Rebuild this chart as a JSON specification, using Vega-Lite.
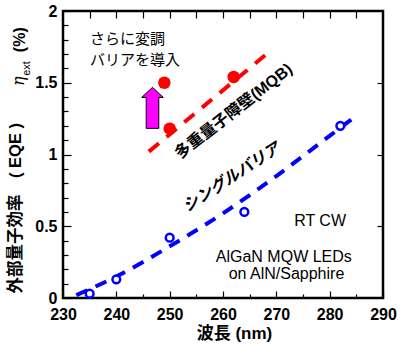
{
  "$schema": "https://vega.github.io/schema/vega-lite/v6.json",
  "width": 320,
  "height": 287,
  "autosize": "none",
  "padding": {"left": 63, "top": 11, "right": 18, "bottom": 53},
  "background": "white",
  "config": {
    "view": {"stroke": "black", "strokeWidth": 2.5},
    "font": "Liberation Sans, Noto Sans CJK JP, sans-serif",
    "axis": {"grid": false, "labelFlush": false}
  },
  "datasets": {
    "blue": [
      {"x": 235, "y": 0.03},
      {"x": 240, "y": 0.13},
      {"x": 250, "y": 0.42},
      {"x": 264, "y": 0.6},
      {"x": 282, "y": 1.2}
    ],
    "blueFit": [
      {"x": 232.5, "y": 0.02},
      {"x": 240, "y": 0.15},
      {"x": 250, "y": 0.36},
      {"x": 260, "y": 0.59},
      {"x": 270, "y": 0.85},
      {"x": 280, "y": 1.13},
      {"x": 285, "y": 1.27}
    ],
    "red": [
      {"x": 249, "y": 1.5},
      {"x": 250, "y": 1.18},
      {"x": 262, "y": 1.54}
    ],
    "redFit": [
      {"x": 246.1, "y": 1.02},
      {"x": 268.5, "y": 1.71}
    ],
    "arrow": [{"x": 246.78, "y": 1.325}],
    "noteLeft": [
      {"x": 235.06, "y": 1.805, "label": "さらに変調"},
      {"x": 235.06, "y": 1.659, "label": "バリアを導入"}
    ],
    "noteCenter": [
      {"x": 278.2, "y": 0.539, "label": "RT CW"},
      {"x": 271.4, "y": 0.288, "label": "AlGaN MQW LEDs"},
      {"x": 271.9, "y": 0.165, "label": "on AlN/Sapphire"}
    ],
    "mqb": [{"x": 262.0, "y": 1.30, "label": "多重量子障壁(MQB)"}],
    "single": [{"x": 261.6, "y": 0.84, "label": "シングルバリア"}],
    "eta": [{"x": 221.75, "y": 1.51, "label": "η"}],
    "ext": [{"x": 223.2, "y": 1.60, "label": "ext"}],
    "pct": [{"x": 221.94, "y": 1.80, "label": "(%)"}]
  },
  "resolve": {"axis": {"x": "independent", "y": "independent"}},
  "layer": [
    {
      "data": {"name": "blue"},
      "mark": {"type": "point", "opacity": 0},
      "encoding": {
        "x": {"field": "x", "type": "quantitative", "scale": {"domain": [230, 290], "nice": false},
          "axis": {"orient": "bottom", "values": [230, 240, 250, 260, 270, 280, 290], "domain": false, "ticks": false, "labelPadding": 8,
            "labelFont": "Liberation Sans", "labelFontSize": 16, "labelFontWeight": "bold", "labelColor": "black",
            "title": "波長 (nm)", "titleFont": "Liberation Sans, Noto Sans CJK JP", "titleFontSize": 17, "titleFontWeight": "bold", "titleColor": "black",
            "titleX": 171, "titleY": 27, "titleBaseline": "top", "titleAlign": "center"}},
        "y": {"field": "y", "type": "quantitative", "scale": {"domain": [0, 2], "nice": false},
          "axis": {"orient": "left", "values": [0, 0.5, 1, 1.5, 2], "format": ".1~f", "domain": false, "ticks": false, "labelPadding": 6,
            "labelFont": "Liberation Sans", "labelFontSize": 16, "labelFontWeight": "bold", "labelColor": "black",
            "title": "外部量子効率　( EQE )", "titleFont": "Liberation Sans, Noto Sans CJK JP", "titleFontSize": 16.5, "titleFontWeight": "bold", "titleColor": "black",
            "titleAngle": -90, "titleX": -48, "titleY": 282, "titleAlign": "left", "titleBaseline": "middle"}}
      }
    },
    {
      "data": {"name": "blue"},
      "mark": {"type": "point", "opacity": 0},
      "encoding": {
        "x": {"field": "x", "type": "quantitative",
          "axis": {"orient": "bottom", "values": [230, 240, 250, 260, 270, 280, 290], "domain": false, "labels": false, "tickColor": "black", "tickWidth": 1.2, "tickSize": -7, "title": null}},
        "y": {"field": "y", "type": "quantitative",
          "axis": {"orient": "left", "values": [0, 0.5, 1, 1.5, 2], "domain": false, "labels": false, "tickColor": "black", "tickWidth": 1.2, "tickSize": -8, "title": null}}
      }
    },
    {
      "data": {"name": "blue"},
      "mark": {"type": "point", "opacity": 0},
      "encoding": {
        "x": {"field": "x", "type": "quantitative",
          "axis": {"orient": "bottom", "values": [235, 245, 255, 265, 275, 285], "domain": false, "labels": false, "tickColor": "black", "tickWidth": 1.2, "tickSize": -4, "title": null}},
        "y": {"field": "y", "type": "quantitative",
          "axis": {"orient": "left", "values": [0.1, 0.2, 0.3, 0.4, 0.6, 0.7, 0.8, 0.9, 1.1, 1.2, 1.3, 1.4, 1.6, 1.7, 1.8, 1.9], "domain": false, "labels": false, "tickColor": "black", "tickWidth": 1.2, "tickSize": -5, "title": null}}
      }
    },
    {
      "data": {"name": "blue"},
      "mark": {"type": "point", "opacity": 0},
      "encoding": {
        "x": {"field": "x", "type": "quantitative",
          "axis": {"orient": "top", "values": [235, 240, 245, 250, 255, 260, 265, 270, 275, 280, 285], "domain": false, "labels": false, "tickColor": "black", "tickWidth": 1.2, "tickSize": -7, "title": null}},
        "y": {"field": "y", "type": "quantitative",
          "axis": {"orient": "right", "values": [0.5, 1, 1.5], "domain": false, "labels": false, "tickColor": "black", "tickWidth": 1.2, "tickSize": -6, "title": null}}
      }
    },
    {
      "data": {"name": "blueFit"},
      "mark": {"type": "line", "color": "#0000ff", "strokeWidth": 4, "strokeDash": [12, 9], "interpolate": "monotone"},
      "encoding": {
        "x": {"field": "x", "type": "quantitative", "axis": null},
        "y": {"field": "y", "type": "quantitative", "axis": null}
      }
    },
    {
      "data": {"name": "redFit"},
      "mark": {"type": "line", "color": "#ff0000", "strokeWidth": 4, "strokeDash": [13, 10]},
      "encoding": {
        "x": {"field": "x", "type": "quantitative", "axis": null},
        "y": {"field": "y", "type": "quantitative", "axis": null}
      }
    },
    {
      "data": {"name": "blue"},
      "mark": {"type": "point", "shape": "circle", "filled": false, "fill": "white", "fillOpacity": 1, "stroke": "#0000ff", "strokeWidth": 2.5, "size": 60, "opacity": 1},
      "encoding": {
        "x": {"field": "x", "type": "quantitative", "axis": null},
        "y": {"field": "y", "type": "quantitative", "axis": null}
      }
    },
    {
      "data": {"name": "red"},
      "mark": {"type": "point", "shape": "circle", "filled": true, "color": "#ff0000", "size": 155, "opacity": 1},
      "encoding": {
        "x": {"field": "x", "type": "quantitative", "axis": null},
        "y": {"field": "y", "type": "quantitative", "axis": null}
      }
    },
    {
      "data": {"name": "arrow"},
      "mark": {"type": "point", "shape": "M0,-1L0.527,-0.51L0.307,-0.51L0.307,1L-0.307,1L-0.307,-0.51L-0.527,-0.51Z", "size": 1681, "filled": true, "fill": "#ff00ff", "stroke": "black", "strokeWidth": 1, "opacity": 1},
      "encoding": {
        "x": {"field": "x", "type": "quantitative", "axis": null},
        "y": {"field": "y", "type": "quantitative", "axis": null}
      }
    },
    {
      "data": {"name": "noteLeft"},
      "mark": {"type": "text", "align": "left", "baseline": "middle", "font": "Noto Sans CJK JP", "fontSize": 15, "color": "black"},
      "encoding": {
        "x": {"field": "x", "type": "quantitative", "axis": null},
        "y": {"field": "y", "type": "quantitative", "axis": null},
        "text": {"field": "label"}
      }
    },
    {
      "data": {"name": "noteCenter"},
      "mark": {"type": "text", "align": "center", "baseline": "middle", "font": "Liberation Sans", "fontSize": 16, "color": "black"},
      "encoding": {
        "x": {"field": "x", "type": "quantitative", "axis": null},
        "y": {"field": "y", "type": "quantitative", "axis": null},
        "text": {"field": "label"}
      }
    },
    {
      "data": {"name": "mqb"},
      "mark": {"type": "text", "align": "center", "baseline": "middle", "angle": -38, "font": "Liberation Sans, Noto Sans CJK JP", "fontWeight": "bold", "fontSize": 16, "color": "black"},
      "encoding": {
        "x": {"field": "x", "type": "quantitative", "axis": null},
        "y": {"field": "y", "type": "quantitative", "axis": null},
        "text": {"field": "label"}
      }
    },
    {
      "data": {"name": "single"},
      "mark": {"type": "text", "align": "center", "baseline": "middle", "angle": -33, "font": "Noto Sans CJK JP", "fontStyle": "italic", "fontWeight": "bold", "fontSize": 16, "color": "black"},
      "encoding": {
        "x": {"field": "x", "type": "quantitative", "axis": null},
        "y": {"field": "y", "type": "quantitative", "axis": null},
        "text": {"field": "label"}
      }
    },
    {
      "data": {"name": "eta"},
      "mark": {"type": "text", "align": "center", "baseline": "middle", "angle": -90, "font": "DejaVu Serif", "fontStyle": "italic", "fontSize": 16, "color": "black"},
      "encoding": {
        "x": {"field": "x", "type": "quantitative", "axis": null},
        "y": {"field": "y", "type": "quantitative", "axis": null},
        "text": {"field": "label"}
      }
    },
    {
      "data": {"name": "ext"},
      "mark": {"type": "text", "align": "center", "baseline": "middle", "angle": -90, "font": "Liberation Sans", "fontSize": 11, "color": "black"},
      "encoding": {
        "x": {"field": "x", "type": "quantitative", "axis": null},
        "y": {"field": "y", "type": "quantitative", "axis": null},
        "text": {"field": "label"}
      }
    },
    {
      "data": {"name": "pct"},
      "mark": {"type": "text", "align": "center", "baseline": "middle", "angle": -90, "font": "Liberation Sans", "fontWeight": "bold", "fontSize": 16, "color": "black"},
      "encoding": {
        "x": {"field": "x", "type": "quantitative", "axis": null},
        "y": {"field": "y", "type": "quantitative", "axis": null},
        "text": {"field": "label"}
      }
    }
  ]
}
